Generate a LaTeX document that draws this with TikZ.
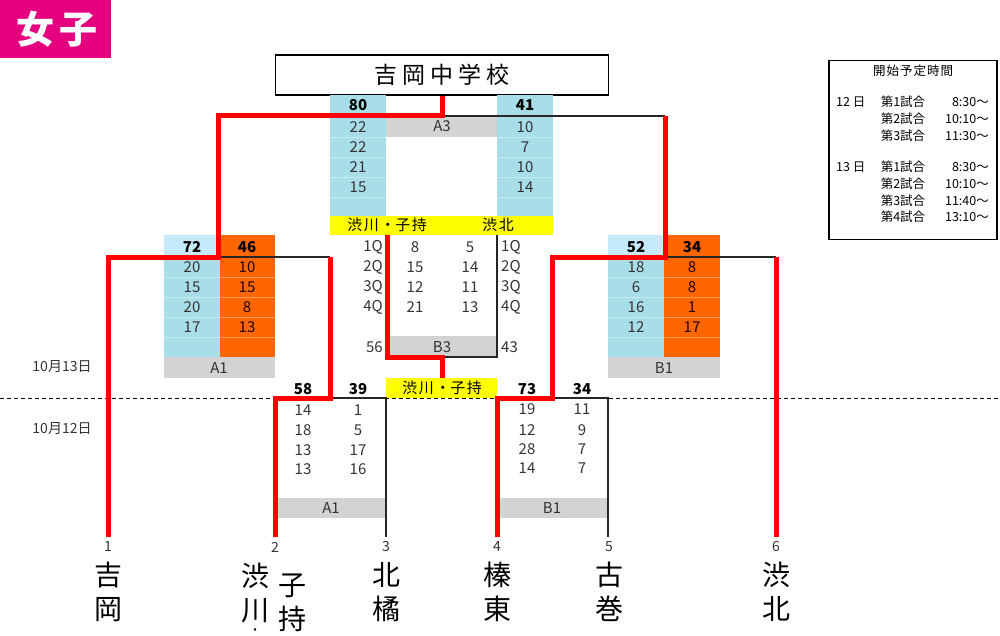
\documentclass[tikz,border=0pt]{standalone}
\usepackage{fontspec}
\setmainfont{Noto Sans CJK JP}
\definecolor{magentabg}{HTML}{E4007F}
\definecolor{cellblue}{HTML}{A8DEE8}
\definecolor{lightblue}{HTML}{C5EBFA}
\definecolor{cellorange}{HTML}{FF6600}
\definecolor{cellgray}{HTML}{D3D3D3}
\definecolor{yel}{HTML}{FFFF00}
\definecolor{redline}{HTML}{FF0000}
\definecolor{txt}{HTML}{333333}
\newcommand{\fsz}[1]{\fontsize{#1}{#1}\selectfont}
\begin{document}
\begin{tikzpicture}[x=1pt,y=-1pt,
  num/.style={inner sep=0, text=txt, font=\fsz{15}},
  bnum/.style={inner sep=0, text=black, font=\fsz{15}\bfseries},
  glabel/.style={inner sep=0, text=txt, font=\fsz{15}},
  wline/.style={draw=redline, line width=5pt, line join=miter},
  bline/.style={draw=black!85, line width=1.3pt},
  team/.style={inner sep=0, align=center, font=\fontsize{28}{34}\selectfont},
  tnum/.style={inner sep=0, text=txt, font=\fsz{14}},
  sched/.style={inner sep=0, font=\fsz{12.5}},
  yl/.style={inner sep=0, font=\fsz{15}},
  sep/.style={draw=white, opacity=0.35, line width=0.6pt},
]
\useasboundingbox (0,0) rectangle (1000,636);

% ---- header
\fill[magentabg] (0,0) rectangle (111,58);
\node[inner sep=0, text=white, font=\fsz{38}\bfseries] (joshi) at (57,29) {女\hspace{5pt}子};
\node[draw, line width=1.5pt, minimum width=333pt, minimum height=40pt, inner sep=0,
      font=\fsz{23}] (title) at (442,75) {吉\hspace{5pt}岡\hspace{5pt}中\hspace{5pt}学\hspace{5pt}校};

% ---- schedule box
\node[draw, line width=1.3pt, minimum width=168pt, minimum height=179pt, inner sep=0] (sbox) at (913,150) {};
\node[sched] (sh) at (913,71) {開\hspace{1pt}始\hspace{1pt}予\hspace{1pt}定\hspace{1pt}時\hspace{1pt}間};
\node[sched, anchor=west] (d12) at (836,102) {12 日};
\node[sched, anchor=west] (d13) at (836,167) {13 日};
\foreach \nm/\yy/\gm/\tm in {s1/102/第1試合/8:30～, s2/119/第2試合/10:10～, s3/136/第3試合/11:30～,
  s4/167/第1試合/8:30～, s5/184/第2試合/10:10～, s6/201/第3試合/11:40～, s7/217/第4試合/13:10～}{
  \node[sched] (\nm g) at (903,\yy) {\gm};
  \node[sched, anchor=east] (\nm t) at (989,\yy) {\tm};
}

% ---- fills
\fill[cellblue] (330,95) rectangle (386,216);
\fill[cellblue] (497,95) rectangle (553,216);
\fill[cellgray] (386,116) rectangle (497,137);
\fill[yel] (330,216) rectangle (553,235);
\fill[lightblue] (164,235) rectangle (220,257);
\fill[cellblue] (164,257) rectangle (220,357);
\fill[cellorange] (220,235) rectangle (275,357);
\fill[cellgray] (164,357) rectangle (275,378);
\fill[lightblue] (608,235) rectangle (664,257);
\fill[cellblue] (608,257) rectangle (664,357);
\fill[cellorange] (664,235) rectangle (720,357);
\fill[cellgray] (608,357) rectangle (720,378);
\fill[cellgray] (387,336) rectangle (497,357);
\fill[yel] (386,378) rectangle (497,398);
\fill[cellgray] (277,498) rectangle (386,518);
\fill[cellgray] (497,498) rectangle (608,518);

\foreach \yy in {137,157,177,197}{
  \draw[sep] (330,\yy) -- (386,\yy);
  \draw[sep] (497,\yy) -- (553,\yy);
}
\foreach \yy in {277,297,317,337}{
  \draw[sep] (164,\yy) -- (275,\yy);
  \draw[sep] (608,\yy) -- (720,\yy);
}

% ---- dashed date divider
\coordinate (dl) at (0,398);
\coordinate (dr) at (1000,398);
\draw[dashed, dash pattern=on 4pt off 3pt, line width=1pt] (dl) -- (dr);

% ---- coordinates
\coordinate (t1) at (108,537);
\coordinate (t2) at (275,537);
\coordinate (t3) at (386,537);
\coordinate (t4) at (497,537);
\coordinate (t5) at (608,537);
\coordinate (t6) at (776,537);
\coordinate (a12) at (330,398);
\coordinate (b12) at (552,398);
\coordinate (a13) at (218,257);
\coordinate (a13r) at (330,257);
\coordinate (b13) at (665,257);
\coordinate (fin) at (442,116);
\coordinate (b3l) at (387,235);
\coordinate (b3r) at (497,235);
\coordinate (b3m) at (442,357);
\coordinate (third) at (442,378);

% ---- black lines
\draw[bline] (a13) -- (a13r);
\draw[bline] (a12) -| (t3);
\draw[bline] (b12) -| (t5);
\draw[bline] (b13) -- (t6 |- b13);
\draw[bline] (fin) -- (b13 |- fin);
\draw[bline] (b3r) |- (b3m);

% ---- red (winner) lines
\draw[wline] (t1) |- (a13) |- (fin) -- (title.south);
\draw[wline] (t2) |- (a12) -- (a13r);
\draw[wline] (t4) |- (b12) |- (b13) -- (b13 |- fin);
\draw[wline] (t6) -- (t6 |- b13);
\draw[wline] (b3l) |- (b3m) -- (third);

% ---- A3 texts
\node[bnum] (a3l0) at (358,105) {80};
\node[bnum] (a3r0) at (525,105) {41};
\foreach \yy/\l/\r [count=\i] in {127/22/10, 147/22/7, 167/21/10, 187/15/14}{
  \node[num] (a3l\i) at (358,\yy) {\l};
  \node[num] (a3r\i) at (525,\yy) {\r};
}
\node[glabel] (a3lab) at (442,126) {A3};
\node[yl] (y3l) at (387,225) {渋\hspace{1.5pt}川\hspace{1.5pt}・子\hspace{1.5pt}持};
\node[yl] (y3r) at (498,225) {渋\hspace{1.5pt}北};

% ---- A1 13th
\node[bnum] (a1l0) at (192,247) {72};
\node[bnum] (a1r0) at (247,247) {46};
\foreach \yy/\l/\r [count=\i] in {267/20/10, 287/15/15, 307/20/8, 327/17/13}{
  \node[num] (a1l\i) at (192,\yy) {\l};
  \node[num, text=black!85!red] (a1r\i) at (247,\yy) {\r};
}
\node[glabel] (a1lab) at (219,368) {A1};

% ---- B1 13th
\node[bnum] (b1l0) at (636,247) {52};
\node[bnum] (b1r0) at (692,247) {34};
\foreach \yy/\l/\r [count=\i] in {267/18/8, 287/6/8, 307/16/1, 327/12/17}{
  \node[num] (b1l\i) at (636,\yy) {\l};
  \node[num, text=black!85!red] (b1r\i) at (692,\yy) {\r};
}
\node[glabel] (b1lab) at (664,368) {B1};

% ---- B3
\foreach \yy/\q/\l/\r [count=\i] in {247/1Q/8/5, 267/2Q/15/14, 287/3Q/12/11, 307/4Q/21/13}{
  \node[num, anchor=east] (b3ql\i) at (383,\yy) {\q};
  \node[num] (b3l\i) at (415,\yy) {\l};
  \node[num] (b3r\i) at (470,\yy) {\r};
  \node[num, anchor=west] (b3qr\i) at (501,\yy) {\q};
}
\node[num, anchor=east] (b3lt) at (383,347) {56};
\node[num, anchor=west] (b3rt) at (501,347) {43};
\node[glabel] (b3lab) at (442,347) {B3};
\node[yl] (y12) at (442,388) {渋\hspace{1.5pt}川\hspace{1.5pt}・子\hspace{1.5pt}持};

% ---- 12th A1
\node[bnum] (c1l0) at (303,389) {58};
\node[bnum] (c1r0) at (358,389) {39};
\foreach \yy/\l/\r [count=\i] in {410/14/1, 430/18/5, 450/13/17, 469/13/16}{
  \node[num] (c1l\i) at (303,\yy) {\l};
  \node[num] (c1r\i) at (358,\yy) {\r};
}
\node[glabel] (c1lab) at (331,508) {A1};

% ---- 12th B1
\node[bnum] (c2l0) at (527,389) {73};
\node[bnum] (c2r0) at (582,389) {34};
\foreach \yy/\l/\r [count=\i] in {409/19/11, 430/12/9, 449/28/7, 468/14/7}{
  \node[num] (c2l\i) at (527,\yy) {\l};
  \node[num] (c2r\i) at (582,\yy) {\r};
}
\node[glabel] (c2lab) at (552,508) {B1};

% ---- dates
\node[inner sep=0, text=txt, font=\fsz{14}] (date13) at (62,367) {10月13日};
\node[inner sep=0, text=txt, font=\fsz{14}] (date12) at (62,429) {10月12日};

% ---- team numbers
\node[tnum] (n1) at (108,547) {1};
\node[tnum] (n2) at (275,547) {2};
\node[tnum] (n3) at (386,547) {3};
\node[tnum] (n4) at (497,547) {4};
\node[tnum] (n5) at (609,547) {5};
\node[tnum] (n6) at (776,547) {6};

% ---- team names
\node[team] (team1) at (108,592) {吉\\岡};
\node[team] (team2a) at (255,593) {渋\\川};
\node[inner sep=0, font=\fsz{12}] (team2dot) at (255,632) {・};
\node[team] (team2b) at (292,603) {子\\持};
\node[team] (team3) at (386,592) {北\\橘};
\node[team] (team4) at (497,592) {榛\\東};
\node[team] (team5) at (609,592) {古\\巻};
\node[team] (team6) at (776,592) {渋\\北};
\end{tikzpicture}
\end{document}
